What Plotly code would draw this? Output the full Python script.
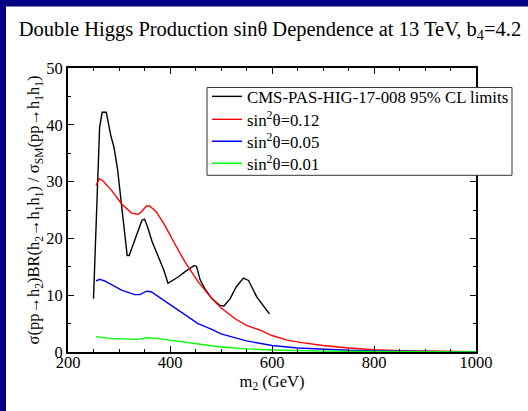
import plotly.graph_objects as go

# CMS-PAS-HIG-17-008 95% CL limits
cms_m = [250, 262, 267, 275, 284, 290, 297, 305, 311, 316, 320, 328, 336, 345, 350, 356, 365, 377, 388, 396,
         403, 416, 429, 439, 447, 452, 459, 468, 482, 498, 506, 518, 530, 544, 554, 570, 595]
cms_y = [9.4, 39.6, 42.2, 42.2, 38.1, 36.1, 32.3, 25.8, 20.0, 17.0, 17.0, 19.1, 20.9, 23.2, 23.4, 22.0, 19.4, 16.8, 14.4, 12.1,
         12.5, 13.2, 14.1, 14.8, 15.2, 15.1, 12.7, 11.2, 9.4, 8.2, 8.1, 9.4, 11.5, 13.0, 12.6, 9.7, 6.7]

# sin^2(theta) = 0.12
red_m = [255, 261, 268, 285, 305, 324, 337, 344, 354, 360, 373, 390, 409, 429, 455, 482, 500, 527, 550,
         578, 600, 630, 655, 700, 750, 800, 850, 900, 1000]
red_y = [29.3, 30.5, 30.2, 28.5, 26.1, 24.5, 24.2, 24.7, 25.7, 25.7, 24.7, 22.3, 19.1, 15.9, 12.4, 9.4, 7.8, 5.9, 4.7,
         3.8, 2.9, 2.1, 1.7, 1.15, 0.7, 0.4, 0.25, 0.15, 0.06]

# sin^2(theta) = 0.05
blue_m = [255, 262, 272, 290, 305, 331, 341, 354, 363, 383, 399, 429, 455, 482, 500, 550, 600, 650, 700, 750, 800, 900, 1000]
blue_y = [12.5, 12.8, 12.5, 11.6, 10.9, 10.1, 10.1, 10.7, 10.6, 9.4, 8.4, 6.5, 5.0, 4.0, 3.2, 1.95, 1.15, 0.7, 0.45, 0.3, 0.2, 0.08, 0.03]

# sin^2(theta) = 0.01
green_m = [255, 282, 334, 357, 374, 400, 446, 496, 550, 600, 700, 800, 1000]
green_y = [2.7, 2.4, 2.23, 2.5, 2.4, 2.1, 1.5, 0.93, 0.55, 0.35, 0.15, 0.08, 0.02]

names = ["CMS-PAS-HIG-17-008 95% CL limits",
         "sin<sup>2</sup>θ=0.12", "sin<sup>2</sup>θ=0.05", "sin<sup>2</sup>θ=0.01"]
colors = ["black", "#ff0000", "#0000ff", "#00ff00"]

FONT = "'Liberation Serif', 'Times New Roman', Times, 'DejaVu Serif', serif"

W, H = 528, 411
L, R, T, B = 68, 476, 67.5, 352
pw, ph = R - L, B - T

def px2paper_x(p):
    return (p - L) / pw

def py2paper_y(p):
    return (B - p) / ph

legend_ids = ["legend", "legend2", "legend3", "legend4"]
legend_rows = [96, 119, 141, 163]   # row centres (px) of the legend entries
LEG_LEFT, LEG_RIGHT, LEG_TOP, LEG_BOTTOM = 207, 512, 87, 175

fig = go.Figure()
for xs, ys, nm, c, lg in zip([cms_m, red_m, blue_m, green_m], [cms_y, red_y, blue_y, green_y],
                             names, colors, legend_ids):
    fig.add_trace(go.Scatter(x=xs, y=ys, mode="lines", name=nm, legend=lg,
                             line=dict(color=c, width=1.4)))

axis_common = dict(showline=True, linecolor="black", linewidth=2, mirror="ticks",
                   ticks="inside", ticklen=6, tickwidth=1, tickcolor="black",
                   showgrid=False, zeroline=False, automargin=False,
                   tickfont=dict(family=FONT, size=16.5, color="black"))

legend_style = dict(xanchor="left", yanchor="middle", bgcolor="rgba(0,0,0,0)", borderwidth=0,
                    font=dict(family=FONT, size=16.8, color="black"), itemwidth=30)

layout_legends = {}
for lg, row in zip(legend_ids, legend_rows):
    layout_legends[lg] = dict(x=px2paper_x(LEG_LEFT), y=py2paper_y(row), **legend_style)

fig.update_layout(
    width=W, height=H,
    margin=dict(l=L, r=W - R, t=T, b=H - B, pad=0, autoexpand=False),
    paper_bgcolor="white", plot_bgcolor="white",
    font=dict(family=FONT, color="black", size=16),
    title=dict(text="Double Higgs Production sinθ Dependence at 13 TeV, b<sub>4</sub>=4.2",
               x=270 / W, xref="container", xanchor="center",
               y=1 - 29 / H, yref="container", yanchor="middle",
               font=dict(family=FONT, size=20.5, color="black")),
    xaxis=dict(range=[200, 1000], tickvals=[200, 400, 600, 800, 1000],
               minor=dict(dtick=50, ticklen=3, ticks="inside", tickcolor="black"),
               ticklabelstandoff=-6,
               title=dict(text="m<sub>2</sub> (GeV)", font=dict(family=FONT, size=16.5), standoff=0),
               **axis_common),
    yaxis=dict(range=[0, 50], tickvals=[0, 10, 20, 30, 40, 50],
               minor=dict(dtick=5, ticklen=3, ticks="inside", tickcolor="black"),
               title=dict(text="σ(pp→h<sub>2</sub>)BR(h<sub>2</sub>→h<sub>1</sub>h<sub>1</sub>) / σ<sub>SM</sub>(pp→h<sub>1</sub>h<sub>1</sub>)",
                          font=dict(family=FONT, size=16.5), standoff=2),
               **axis_common),
    showlegend=True,
    **layout_legends,
)

# legend frame
fig.add_shape(type="rect", xref="paper", yref="paper",
              x0=px2paper_x(LEG_LEFT), x1=px2paper_x(LEG_RIGHT),
              y0=py2paper_y(LEG_BOTTOM), y1=py2paper_y(LEG_TOP),
              fillcolor="white", line=dict(color="#333333", width=1), layer="above")

# navy frame strips on the left and top edges of the page
fig.add_shape(type="rect", xref="paper", yref="paper",
              x0=px2paper_x(-10), x1=px2paper_x(6), y0=py2paper_y(H + 10), y1=py2paper_y(-10),
              fillcolor="#000080", line=dict(width=0), layer="above")
fig.add_shape(type="rect", xref="paper", yref="paper",
              x0=px2paper_x(-10), x1=px2paper_x(W + 10), y0=py2paper_y(6), y1=py2paper_y(-10),
              fillcolor="#000080", line=dict(width=0), layer="above")

fig.write_html("out.html", config={"displayModeBar": False},
               post_script="document.body.style.margin='0';"
                           "document.body.style.overflow='hidden';"
                           "document.documentElement.style.overflow='hidden';")
